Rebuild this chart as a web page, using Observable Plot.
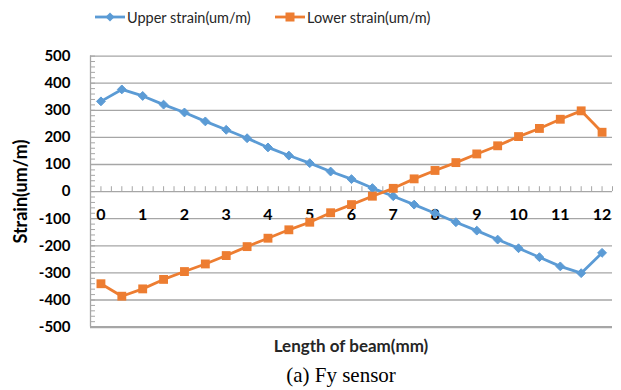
<!DOCTYPE html>
<html><head><meta charset="utf-8">
<script src="https://cdn.jsdelivr.net/npm/d3@7"></script>
<script src="https://cdn.jsdelivr.net/npm/@observablehq/plot@0.6"></script>
<style>
body{margin:0;background:#fff;}
#wrap{position:relative;width:621px;height:390px;font-family:Lato,"Open Sans",sans-serif;overflow:hidden;}
#legend{position:absolute;top:0;left:0;width:621px;height:34px;}
.item{position:absolute;top:7px;height:20px;display:flex;align-items:center;font-size:14.5px;color:#262626;white-space:nowrap;}
.item svg{margin-right:2px;}
#chart{position:absolute;top:34px;left:0;}
#chart g[aria-label="y-axis label"]{font-size:18px;}
#xtitle{position:absolute;top:335px;left:0;width:702px;text-align:center;font-weight:bold;font-size:17px;line-height:22px;color:#262626;}
#caption{position:absolute;top:362px;left:0;width:682px;text-align:center;font-family:"Liberation Serif","Times New Roman",serif;font-size:21px;line-height:26px;color:#000;}
</style></head>
<body>
<div id="wrap">
  <div id="legend"></div>
  <div id="chart"></div>
  <div id="xtitle"></div>
  <div id="caption"></div>
</div>
<script>
// ---- data ----
const lengths = [0,0.5,1,1.5,2,2.5,3,3.5,4,4.5,5,5.5,6,6.5,7,7.5,8,8.5,9,9.5,10,10.5,11,11.5,12];
const upperStrain = [333,377,353,321,292,259,228,197,163,133,105,74,46,13,-17,-48,-80,-113,-144,-177,-209,-242,-276,-301,-226];
const lowerStrain = [-340,-386,-359,-324,-295,-267,-236,-203,-172,-141,-113,-78,-48,-17,12,47,78,107,139,169,203,233,267,298,219];
const seriesNames = ["Upper strain(um/m)", "Lower strain(um/m)"];
const xTickLabels = [0,1,2,3,4,5,6,7,8,9,10,11,12];
const yTickLabels = [500,400,300,200,100,0,-100,-200,-300,-400,-500];
const gridValues = [500,400,300,200,100,-100,-200,-300,-400];
const yTitle = "Strain(um/m)";
const xTitle = "Length of beam(mm)";
const caption = "(a) Fy sensor";

const blue = "#5B9BD5", orange = "#ED7D31", grid = "#a6a6a6";

const upperData = lengths.map((x,i)=>({x, y: upperStrain[i]}));
const lowerData = lengths.map((x,i)=>({x, y: lowerStrain[i]}));
const xMinor = d3.range(-0.25, 12.26, 0.25);
const yMinor = d3.range(-500, 501, 20);

const chart = Plot.plot({
  width: 621, height: 300,
  marginTop: 21.6, marginBottom: 7.4, marginLeft: 90, marginRight: 9,
  style: {fontFamily: "Lato, 'Open Sans', sans-serif", fontWeight: "bold", color: "#000", background: "#fff"},
  x: {domain: [-0.25, 12.25], axis: null},
  y: {domain: [-500, 500], axis: null},
  marks: [
    Plot.ruleY(gridValues, {stroke: grid, strokeWidth: 1.3, strokeOpacity: 1}),
    Plot.ruleY([-500], {stroke: grid, strokeWidth: 2.2, strokeOpacity: 1}),
    Plot.ruleX([-0.25], {y1: -500, y2: 500, stroke: grid, strokeWidth: 1.3, strokeOpacity: 1}),
    Plot.ruleY(yMinor, {x1: -0.25, x2: -0.13, stroke: grid, strokeWidth: 1, strokeOpacity: 1}),
    Plot.ruleY([0], {stroke: grid, strokeWidth: 1.3, strokeOpacity: 1}),
    Plot.ruleX(xMinor, {y1: 0, y2: 18, stroke: grid, strokeWidth: 1, strokeOpacity: 1}),
    Plot.axisY(yTickLabels, {tickSize: 0, tickPadding: 20, fontSize: 15, tickFormat: d => String(d),
      label: yTitle, labelAnchor: "center", labelArrow: "none", labelOffset: 76}),
    Plot.text(xTickLabels, {x: d => d, y: 0, dy: 23, fontSize: 16, fill: "#000"}),
    Plot.line(upperData, {x: "x", y: "y", stroke: blue, strokeWidth: 2.8}),
    Plot.dot(upperData, {x: "x", y: "y", symbol: "diamond2", r: 4, fill: blue, stroke: blue, strokeWidth: 1}),
    Plot.line(lowerData, {x: "x", y: "y", stroke: orange, strokeWidth: 2.8}),
    Plot.dot(lowerData, {x: "x", y: "y", symbol: "square", r: 5, fill: orange})
  ]
});
document.getElementById("chart").appendChild(chart);

// legend
const legend = document.getElementById("legend");
const items = [
  {name: seriesNames[0], color: blue, shape: "diamond", left: 95},
  {name: seriesNames[1], color: orange, shape: "square", left: 275}
];
for (const it of items) {
  const div = document.createElement("div");
  div.className = "item";
  div.style.left = it.left + "px";
  const marker = it.shape === "diamond"
    ? `<path d="M15,5.5 L19.5,10 L15,14.5 L10.5,10 Z" fill="${it.color}"/>`
    : `<rect x="10.5" y="5.5" width="9" height="9" fill="${it.color}"/>`;
  div.innerHTML = `<svg width="30" height="20"><line x1="0" y1="10" x2="30" y2="10" stroke="${it.color}" stroke-width="2.8"/>${marker}</svg><span>${it.name}</span>`;
  legend.appendChild(div);
}
document.getElementById("xtitle").textContent = xTitle;
document.getElementById("caption").textContent = caption;
</script>
</body></html>
